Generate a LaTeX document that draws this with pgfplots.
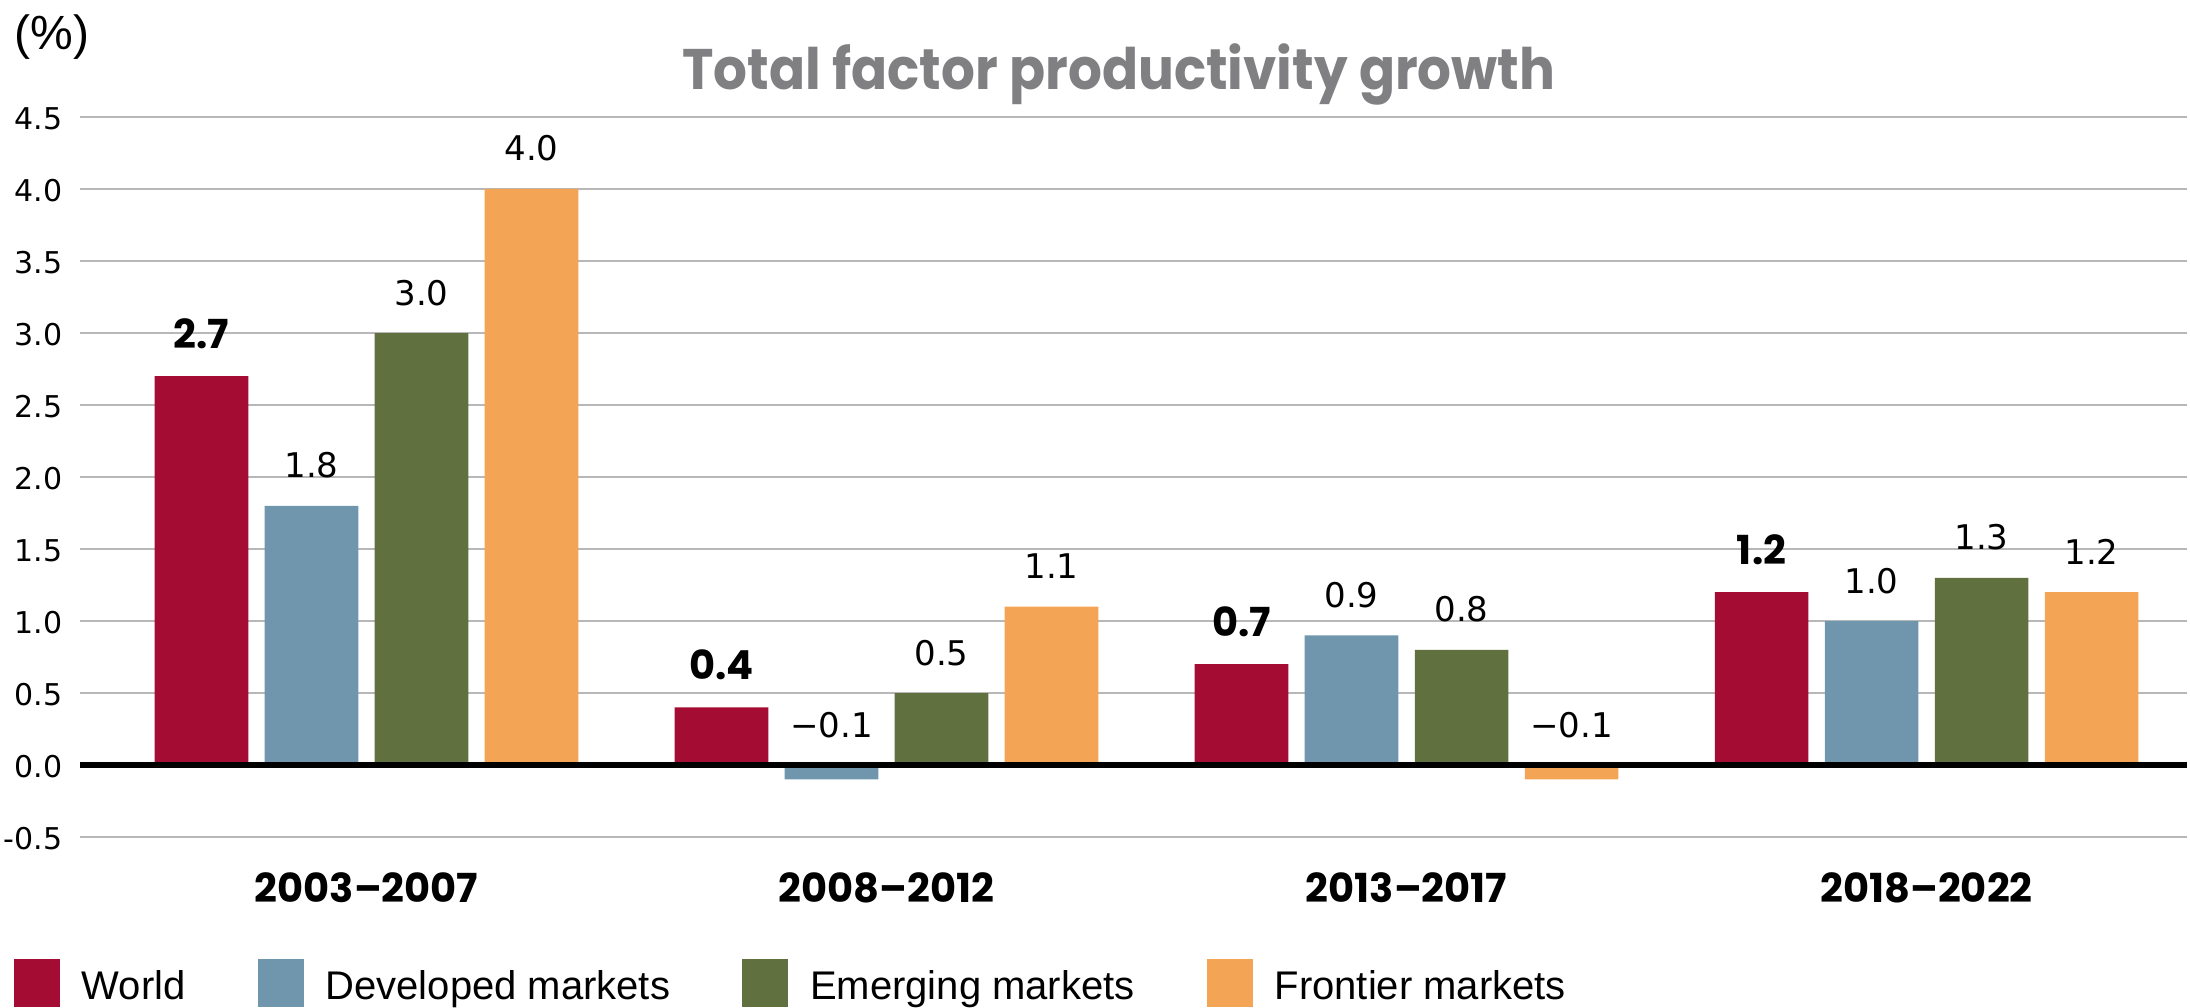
\documentclass[border=0pt]{standalone}
\usepackage{fontspec}
\setmainfont{Liberation Sans}
\newfontfamily\pop{Poppins}
\newfontfamily\popt[FakeStretch=0.93]{Poppins}
\newfontfamily\num{DejaVu Sans}
\usepackage{pgfplots}
\usepackage{pgfplotstable}
\pgfplotsset{compat=1.18}

\definecolor{cWorld}{HTML}{A50C33}
\definecolor{cDev}{HTML}{6F96AC}
\definecolor{cEm}{HTML}{61703F}
\definecolor{cFr}{HTML}{F4A455}
\definecolor{titlegray}{HTML}{808082}

% period index, value, label
\pgfplotstableread{
x y lab
0 2.7 2.7
1 0.4 0.4
2 0.7 0.7
3 1.2 1.2
}\world
\pgfplotstableread{
x y lab
0 1.8 1.8
1 -0.1 −0.1
2 0.9 0.9
3 1.0 1.0
}\developed
\pgfplotstableread{
x y lab
0 3.0 3.0
1 0.5 0.5
2 0.8 0.8
3 1.3 1.3
}\emerging
\pgfplotstableread{
x y lab
0 4.0 4.0
1 1.1 1.1
2 -0.1 −0.1
3 1.2 1.2
}\frontier

\begin{document}
\begin{tikzpicture}
\useasboundingbox (-20pt,-42.5pt) rectangle (527.5pt,209.25pt);
\begin{axis}[
  at={(0,0)}, anchor=south west,
  x=130pt, y=36pt,
  xmin=-0.551, xmax=3.5, ymin=-0.5, ymax=4.5,
  clip=false,
  axis line style={draw=none},
  major tick length=0pt,
  ytick={-0.5,0,0.5,1,1.5,2,2.5,3,3.5,4,4.5},
  yticklabels={-0.5,0.0,0.5,1.0,1.5,2.0,2.5,3.0,3.5,4.0,4.5},
  ymajorgrids,
  grid style={line width=0.6pt, color=black!28},
  xtick={0,1,2,3},
  xticklabels={2003–2007,2008–2012,2013–2017,2018–2022},
  xticklabel style={font=\pop\bfseries\fontsize{10}{12}\selectfont, anchor=center, yshift=-12.75pt},
  yticklabel style={font=\num\fontsize{7.5}{9}\selectfont, anchor=east, inner sep=0pt, xshift=-4.25pt, yshift=-0.4pt},
  ybar, bar width=23.4pt,
  nodes near coords, point meta=explicit symbolic,
  visualization depends on={y \as \rawy},
  every node near coord/.append style={font=\num\fontsize{8.5}{10}\selectfont, anchor=base, inner sep=0pt,
    yshift={7+max(0,-\rawy)*36}},
  legend columns=4,
  legend image code/.code={\fill[#1,draw=none] (0pt,-2.4pt) rectangle (11.5pt,9.6pt);},
  legend style={at={(0,0)}, anchor=west, xshift=-16.75pt, yshift=-36.5pt,
    draw=none, fill=none, inner sep=0pt, font=\fontsize{10}{12}\selectfont,
    nodes={inner sep=0pt, yshift=2.4pt},
    /tikz/every odd column/.append style={column sep=5.5pt},
    /tikz/every even column/.append style={column sep=18pt}},
]
\addplot[fill=cWorld, draw=none, bar shift=-41.25pt,
  every node near coord/.append style={font=\pop\bfseries\fontsize{10}{12}\selectfont}]
  table[x=x, y=y, meta=lab] {\world};
\addplot[fill=cDev, draw=none, bar shift=-13.75pt] table[x=x, y=y, meta=lab] {\developed};
\addplot[fill=cEm, draw=none, bar shift=13.75pt] table[x=x, y=y, meta=lab] {\emerging};
\addplot[fill=cFr, draw=none, bar shift=41.25pt] table[x=x, y=y, meta=lab] {\frontier};
\legend{World, Developed markets, Emerging markets, Frontier markets}
\draw[black, line width=1.5pt] (axis cs:-0.551,0) -- (axis cs:3.5,0);
\end{axis}
\node[anchor=base, inner sep=0pt, text=titlegray, font=\popt\bfseries\fontsize{14.3}{17}\selectfont]
  at (259.7pt,186.75pt) {Total factor productivity growth};
\node[anchor=base west, inner sep=0pt, font=\fontsize{12}{14}\selectfont]
  at (-16.5pt,196.75pt) {(\%)};
\end{tikzpicture}
\end{document}
